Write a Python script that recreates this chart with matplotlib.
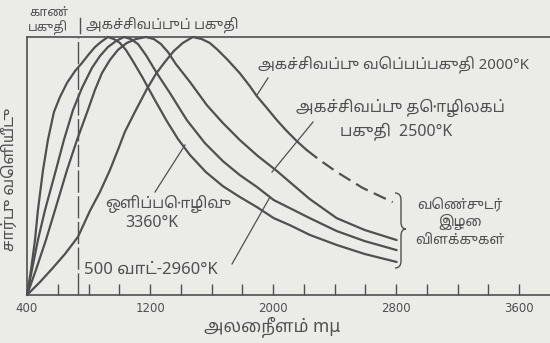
import matplotlib
matplotlib.use("Agg")
import matplotlib.pyplot as plt
from matplotlib.lines import Line2D
from matplotlib.path import Path
from matplotlib.patches import PathPatch

# ---- data (wavelength in m-micron, relative output 0-100) ----
w_3360 = [400, 426, 452, 471, 504, 536, 575, 614, 660, 712, 757, 803, 842, 881, 926, 965,
          1004, 1043, 1088, 1153, 1231, 1309, 1381, 1459, 1562, 1673, 1783, 1894, 2004,
          2108, 2238, 2413, 2595, 2803]
v_3360 = [0, 9.7, 21.3, 32.9, 48.4, 60.1, 70.9, 76.7, 82.2, 86.8, 89.9, 93.4, 96.1, 98.1,
          100, 99.2, 97.7, 95.0, 90.7, 84.1, 75.6, 67.4, 60.5, 54.3, 47.7, 42.2, 38.0,
          34.1, 29.8, 27.1, 23.3, 19.4, 15.9, 12.8]

w_2960 = [400, 432, 471, 517, 588, 640, 699, 757, 822, 874, 926, 978, 1030, 1075, 1121,
          1173, 1244, 1329, 1439, 1556, 1673, 1783, 1894, 2004, 2108, 2238, 2413, 2595, 2803]
v_2960 = [0, 9.7, 21.3, 32.9, 48.4, 60.1, 71.7, 80.2, 88.0, 92.6, 96.1, 98.4, 100, 99.2,
          97.3, 93.0, 86.0, 78.3, 67.8, 58.9, 51.9, 46.5, 41.9, 36.8, 33.7, 29.8, 24.8,
          20.9, 17.4]

w_2500 = [400, 458, 523, 582, 660, 725, 796, 842, 887, 939, 991, 1049, 1108, 1173, 1225,
          1270, 1316, 1368, 1459, 1569, 1673, 1783, 1900, 2024, 2108, 2238, 2413, 2595, 2803]
v_2500 = [0, 9.7, 21.3, 32.9, 48.4, 60.1, 71.7, 79.5, 86.0, 91.1, 95.0, 97.7, 99.2, 100,
          99.2, 97.3, 94.2, 89.5, 82.6, 73.6, 66.7, 60.1, 53.9, 48.1, 43.8, 37.2, 29.8,
          25.2, 21.3]

w_2000 = [400, 484, 562, 647, 731, 809, 874, 939, 991, 1036, 1101, 1179, 1238, 1296, 1355,
          1413, 1478, 1536, 1588, 1640, 1705, 1783, 1848, 1894, 1959, 2024, 2088, 2153, 2218]
v_2000 = [0, 5.0, 10.1, 15.9, 22.5, 32.6, 39.9, 48.4, 56.2, 63.2, 70.9, 79.8, 85.7, 90.3,
          94.6, 97.7, 100, 99.2, 97.7, 95.0, 91.1, 86.0, 81.0, 77.1, 72.5, 67.8, 63.6,
          59.7, 56.2]
w_2000_dash = [2218, 2303, 2413, 2582, 2777]
v_2000_dash = [56.2, 52.3, 47.7, 41.5, 36.0]

visible_limit = 731
tick_values = list(range(400, 3601, 200))
tick_labels = ["400", "1200", "2000", "2800", "3600"]

# ---- figure ----
W, H = 550, 343
bg = "#ebebe8"
ink = "#505050"
TA = ["Noto Sans Tamil", "DejaVu Sans"]

fig = plt.figure(figsize=(W / 100, H / 100), dpi=100, facecolor=bg)
ax = fig.add_axes([27 / W, 1 - 295 / H, 1 - 27 / W, (295 - 37) / H])
ax.set_facecolor(bg)
ax.set_xlim(400, 3800)
ax.set_ylim(0, 100)

lw = 1.6
for wx, vy in [(w_3360, v_3360), (w_2960, v_2960), (w_2500, v_2500), (w_2000, v_2000)]:
    ax.plot(wx, vy, color=ink, lw=lw, clip_on=False, solid_capstyle="round",
            solid_joinstyle="round")
ax.plot(w_2000_dash, v_2000_dash, color=ink, lw=lw, linestyle=(0, (6.0, 3.0)), clip_on=False)

ax.axvline(visible_limit, color=ink, lw=1.0, linestyle=(0, (16, 2.5)))

for s in ["left", "bottom", "top"]:
    ax.spines[s].set_color(ink)
    ax.spines[s].set_linewidth(1.2)
ax.spines["right"].set_visible(False)

ax.set_yticks([])
ax.set_xticks(tick_values)
ax.set_xticklabels([str(t) if str(t) in tick_labels else "" for t in tick_values],
                   fontsize=8.5, color=ink)
ax.tick_params(axis="x", direction="in", length=8, width=1.0, color=ink, pad=5)


def P(px, py):
    return (px / W, 1 - py / H)


def ftext(px, py, s, ha="center", va="center", size=9.5, rot=0):
    x, y = P(px, py)
    fig.text(x, y, s, ha=ha, va=va, fontsize=size, color=ink, family=TA, rotation=rot)


def fline(p1, p2, lw_=0.9):
    a, b = P(*p1), P(*p2)
    fig.add_artist(Line2D([a[0], b[0]], [a[1], b[1]], color=ink, lw=lw_, transform=fig.transFigure))


# header texts
ftext(49, 12, "காண்", size=9)
ftext(48, 28, "பகுதி", size=9)
fline((80, 18), (80, 33), 1.0)
ftext(86, 25, "அகச்சிவப்புப் பகுதி", ha="left", size=10)

# curve labels
ftext(258, 64, "அகச்சிவப்பு வெப்பப்பகுதி 2000°K", ha="left", size=10.8)
fline((268, 78), (257, 95))

ftext(400, 108, "அகச்சிவப்பு தொழிலகப்", size=11.3)
ftext(396, 131, "பகுதி  2500°K", size=11.5)
fline((313, 122), (272, 172))

ftext(168, 204, "ஒளிப்பொழிவு", size=11)
ftext(152, 223, "3360°K", size=11.5)
fline((185, 145), (155, 192))

ftext(84, 270, "500 வாட்-2960°K", ha="left", size=12)
fline((270, 197), (232, 264))

# brace and its label
verts = [P(395, 193), P(401, 193), P(401, 200),
         P(401, 222), P(401, 229), P(406, 229),
         P(401, 229), P(401, 236), P(401, 261),
         P(401, 268), P(395, 268)]
codes = [Path.MOVETO, Path.CURVE3, Path.CURVE3,
         Path.LINETO, Path.CURVE3, Path.CURVE3,
         Path.CURVE3, Path.CURVE3, Path.LINETO,
         Path.CURVE3, Path.CURVE3]
fig.add_artist(PathPatch(Path(verts, codes), facecolor="none", edgecolor=ink, lw=1.0,
                         transform=fig.transFigure))
ftext(460, 205, "வெண்சுடர்", size=10)
ftext(460, 222, "இழை", size=10)
ftext(460, 240, "விளக்குகள்", size=10)

# axis titles
ftext(10, 179, "சார்பு வெளியீடு", size=11.5, rot=90)
ftext(272, 327, "அலைநீளம் mμ", size=12.5)

fig.savefig("out.png", dpi=100, facecolor=bg)
